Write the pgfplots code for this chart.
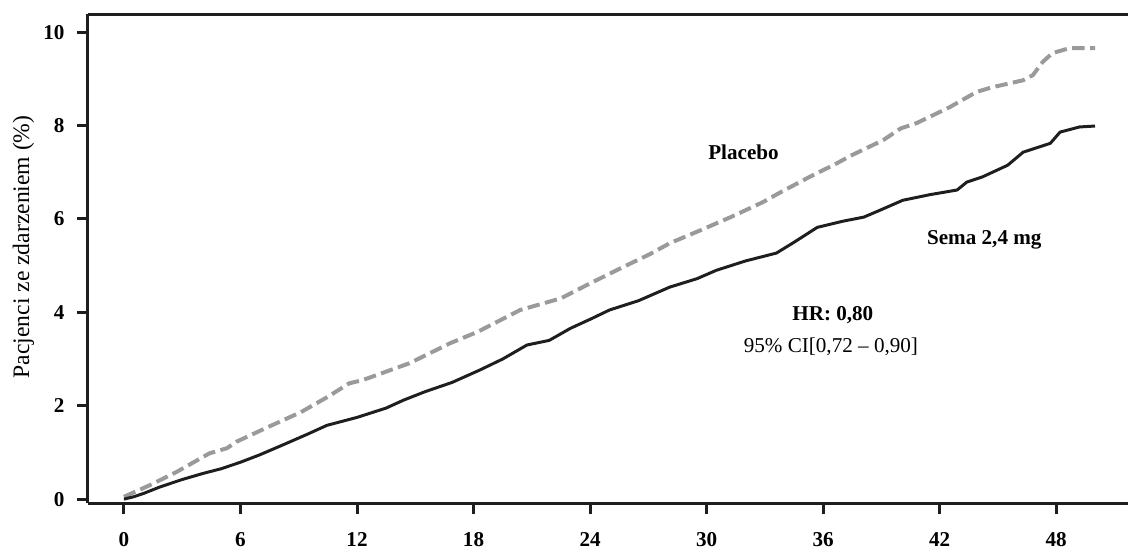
\documentclass[border=0pt]{standalone}
\usepackage{fontspec}
\setmainfont{Liberation Serif}
\usepackage{pgfplots}
\pgfplotsset{compat=1.18}

\definecolor{plgray}{HTML}{9A9A9A}
\definecolor{darkline}{HTML}{1E1E1E}

\begin{document}
\begin{tikzpicture}
    % 1 px of the reference = 0.4025pt
    \path[use as bounding box] (-35.4pt,-19.7pt) rectangle (419.0pt,202.5pt);
    \begin{axis}[
        at={(0,0)}, anchor=south west,
        scale only axis,
        width=418.6pt, height=196.8pt,
        xmin=-1.854, xmax=51.70,
        ymin=-0.086, ymax=10.386,
        axis lines=left,
        axis line style={-, line width=1.2pt, darkline},
        tick align=outside,
        major tick length=4.4pt,
        every tick/.style={line width=1.2pt, darkline},
        xtick={0,6,...,48},
        ytick={0,2,...,10},
        /pgf/number format/assume math mode=true,
        tick label style={font=\fontsize{8.5}{10}\selectfont\bfseries},
        yticklabel style={xshift=-1.5pt},
        xticklabel style={yshift=-4pt},
        ylabel={Pacjenci ze zdarzeniem (\%)},
        every axis y label/.style={at={(rel axis cs:0,0.524)}, xshift=-26.0pt,
            rotate=90, anchor=center, font=\fontsize{9.5}{11}\selectfont},
        clip=false,
    ]
        % placebo
        \addplot[plgray, line width=1.6pt, dash pattern=on 5pt off 2.2pt] coordinates {
            (0,0.05) (1.34,0.3) (2.7,0.58) (4.4,0.98) (5.3,1.09) (5.8,1.23)
            (7.4,1.54) (9.1,1.86) (10.45,2.18) (11.6,2.48) (12.3,2.55) (13.5,2.73)
            (14.7,2.91) (16.8,3.34) (18.2,3.58) (20.4,4.05) (22.5,4.3) (24,4.62)
            (25.7,4.97) (27.1,5.25) (28.1,5.48) (29.7,5.76) (31.3,6.05) (32.9,6.36)
            (33.8,6.57) (35.3,6.9) (36.7,7.19) (37.4,7.35) (39.1,7.69) (40,7.94)
            (40.8,8.05) (42.5,8.39) (43.9,8.72) (44.7,8.82) (46.3,8.97) (46.8,9.08)
            (47.3,9.36) (47.8,9.55) (48.7,9.66) (50,9.66)
        };
        % sema 2,4 mg
        \addplot[darkline, line width=1.2pt] coordinates {
            (0,0) (0.5,0.05) (1,0.12) (1.85,0.26) (3,0.42) (4.07,0.55) (5,0.65)
            (6,0.79) (7,0.95) (8.4,1.2) (9.5,1.4) (10.45,1.58) (12,1.75)
            (13.5,1.95) (14.4,2.12) (15.5,2.3) (16.9,2.5) (18.3,2.76) (19.5,3.0)
            (20.75,3.3) (21.9,3.4) (23,3.66) (24,3.85) (25,4.05) (26.5,4.25)
            (28.1,4.54) (29.5,4.72) (30.5,4.9) (32,5.1) (33.6,5.27) (34.5,5.5)
            (35.7,5.82) (37,5.95) (38.1,6.04) (39,6.2) (40.1,6.4) (41.5,6.52)
            (42.9,6.62) (43.4,6.79) (44.2,6.9) (45.5,7.15) (46.3,7.43) (47.7,7.62)
            (48.2,7.86) (49.2,7.97) (50,7.99)
        };
        \draw[line width=1.2pt, darkline] (rel axis cs:0,1) -- (rel axis cs:1,1);
        \node[font=\fontsize{8.5}{10}\selectfont\bfseries] at (axis cs:31.9,7.43) {Placebo};
        \node[font=\fontsize{8.5}{10}\selectfont\bfseries] at (axis cs:44.3,5.55) {Sema 2,4 mg};
        \node[font=\fontsize{8.5}{10}\selectfont\bfseries] at (axis cs:36.5,3.94) {HR: 0,80};
        \node[font=\fontsize{8.5}{10}\selectfont] at (axis cs:36.4,3.26) {95\% CI[0,72 -- 0,90]};
    \end{axis}
\end{tikzpicture}
\end{document}
